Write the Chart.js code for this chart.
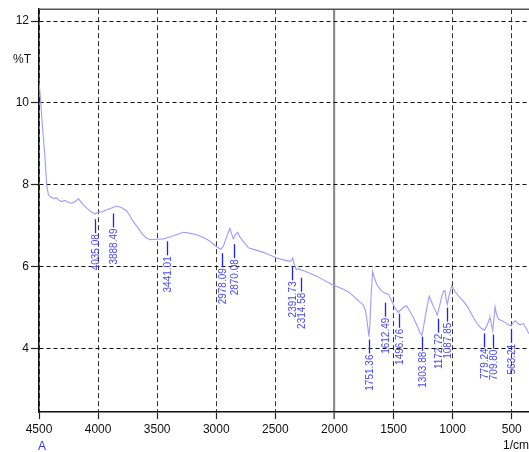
<!DOCTYPE html>
<html><head><meta charset="utf-8">
<script src="https://cdn.jsdelivr.net/npm/chart.js@4"></script>
<style>html,body{margin:0;padding:0;background:#fff;overflow:hidden}#wrap{width:529px;height:452px;position:relative}</style>
</head><body><div id="wrap"><canvas id="c"></canvas></div>
<script>
const wavenumbers = [4500,4490,4470,4450,4435,4420,4400,4380,4350,4330,4308,4280,4260,4223,4190,4167,4150,4125,4090,4060,4026,4000,3960,3927,3880,3842,3800,3758,3730,3702,3670,3631,3600,3560,3500,3448,3400,3350,3279,3230,3166,3100,3053,3000,2963,2940,2910,2884,2870,2856,2840,2819,2800,2771,2728,2602,2488,2420,2375,2360,2353,2340,2323,2300,2285,2268,2200,2155,2100,2038,1986,1920,1869,1817,1780,1756,1740,1728,1715,1708,1700,1690,1677,1665,1643,1620,1601,1580,1545,1530,1516,1490,1460,1445,1432,1410,1389,1360,1333,1300,1275,1261,1248,1233,1215,1198,1180,1164,1145,1130,1110,1090,1075,1065,1055,1045,1030,1008,990,970,952,910,870,825,790,760,732,710,690,684,672,661,650,641,630,613,585,556,530,506,490,472,450,430,401,380,354];
const transmittance = [10.5,10.2,9.4,8.7,8.0,7.75,7.70,7.67,7.68,7.62,7.59,7.62,7.58,7.55,7.60,7.66,7.60,7.51,7.42,7.34,7.29,7.32,7.35,7.39,7.44,7.48,7.44,7.36,7.24,7.10,6.98,6.82,6.72,6.66,6.67,6.68,6.72,6.77,6.84,6.82,6.78,6.70,6.62,6.50,6.42,6.50,6.75,6.94,6.80,6.68,6.78,6.84,6.72,6.62,6.46,6.35,6.21,6.16,6.13,6.17,6.21,6.05,5.93,5.95,5.92,5.91,5.83,5.77,5.69,5.59,5.52,5.44,5.36,5.22,5.12,5.06,4.95,4.76,4.45,4.29,4.6,5.3,5.88,5.75,5.57,5.47,5.41,5.36,5.33,5.25,5.16,5.0,4.88,4.93,4.96,5.02,5.04,4.90,4.76,4.55,4.38,4.32,4.5,4.76,5.05,5.28,5.15,5.04,4.92,4.82,5.05,5.30,5.41,5.41,5.2,5.08,5.3,5.53,5.45,5.35,5.29,5.16,5.0,4.76,4.6,4.5,4.45,4.55,4.72,4.76,4.6,4.44,4.75,5.02,4.85,4.72,4.68,4.64,4.58,4.56,4.62,4.68,4.62,4.58,4.61,4.50,4.36];
const peakLabels = ['4035.08','3888.49','3441.01','2978.09','2870.08','2391.73','2314.58','1751.36','1612.49','1496.76','1303.88','1172.72','1087.85','779.24','709.80','563.21'];
const peakPositions = [4022,3873,3421,2950,2849,2358,2284,1708,1573,1454,1257,1127,1045,732,656,506];
const peakLineTops = [7.16,7.30,6.62,6.33,6.55,6.01,5.73,4.22,5.12,4.85,4.29,4.73,5.0,4.37,4.34,4.48];
const xTickValues = [4500,4000,3500,3000,2500,2000,1500,1000,500];
const yTickValues = [4,6,8,10,12];
const yAxisTitle = '%T';
const xAxisTitle = '1/cm';
const traceName = 'A';

const FONT = '"Liberation Sans", Arial, sans-serif';

const decorPlugin = {
  id: 'decor',
  afterDraw(chart) {
    const ctx = chart.ctx, a = chart.chartArea;
    const xs = chart.scales.x, ys = chart.scales.y;
    ctx.save();
    // top frame line
    ctx.strokeStyle = '#555'; ctx.lineWidth = 1.5;
    ctx.beginPath(); ctx.moveTo(a.left, a.top); ctx.lineTo(a.right, a.top); ctx.stroke();
    // peak markers
    for (let i = 0; i < peakLabels.length; i++) {
      const px = Math.round(xs.getPixelForValue(peakPositions[i])) + 0.5;
      const py = ys.getPixelForValue(peakLineTops[i]);
      ctx.strokeStyle = '#1f1fff'; ctx.lineWidth = 1.3;
      ctx.beginPath(); ctx.moveTo(px, py); ctx.lineTo(px, py + 14); ctx.stroke();
      ctx.save();
      ctx.translate(px, py + 15);
      ctx.rotate(-Math.PI / 2);
      ctx.fillStyle = '#4646ff';
      ctx.font = '10px ' + FONT;
      ctx.textAlign = 'right'; ctx.textBaseline = 'middle';
      ctx.fillText(peakLabels[i], 0, 0.5);
      ctx.restore();
    }
    // axis titles
    ctx.fillStyle = '#111'; ctx.font = '12px ' + FONT;
    ctx.textAlign = 'left'; ctx.textBaseline = 'middle';
    ctx.fillText(yAxisTitle, 13, 60);
    ctx.fillText(xAxisTitle, 503, 446);
    ctx.fillStyle = '#3333ff';
    ctx.fillText(traceName, 38, 447);
    ctx.restore();
  }
};

new Chart(document.getElementById('c'), {
  type: 'line',
  data: {
    datasets: [{
      data: wavenumbers.map((w, i) => ({x: w, y: transmittance[i]})),
      borderColor: '#9c9cff', borderWidth: 1.1, pointRadius: 0, tension: 0, fill: false
    }]
  },
  options: {
    responsive: true, maintainAspectRatio: false, animation: false, devicePixelRatio: 1,
    layout: {padding: {top: 6, right: 0, left: 0, bottom: 0}},
    plugins: {legend: {display: false}, tooltip: {enabled: false}},
    scales: {
      x: {
        type: 'linear', reverse: true, min: 354, max: 4500,
        afterBuildTicks: s => { s.ticks = xTickValues.map(v => ({value: v})); },
        afterFit: s => { s.height = 40; },
        ticks: {callback: v => String(v), color: '#111', font: {family: FONT, size: 12}, padding: 3, maxRotation: 0, autoSkip: false},
        grid: {
          color: c => (c.tick && c.tick.value === 2000) ? '#8c8c8c' : '#333',
          lineWidth: c => (c.tick && c.tick.value === 2000) ? 2.2 : 1,
          tickColor: '#222', tickLength: 7, tickWidth: 1.2
        },
        border: {display: true, color: '#111', width: 1.5, dash: c => (c.tick && c.tick.value === 2000) ? [] : [5, 3]}
      },
      y: {
        type: 'linear', min: 2.45, max: 12.29,
        afterBuildTicks: s => { s.ticks = yTickValues.map(v => ({value: v})); },
        afterFit: s => { s.width = 39; },
        ticks: {callback: v => String(v), color: '#111', font: {family: FONT, size: 12}, padding: 2},
        grid: {color: '#111', lineWidth: 1, tickColor: '#222', tickLength: 8, tickWidth: 1.2},
        border: {display: true, color: '#111', width: 1.5, dash: [4, 3]}
      }
    }
  },
  plugins: [decorPlugin]
});
</script></body></html>
